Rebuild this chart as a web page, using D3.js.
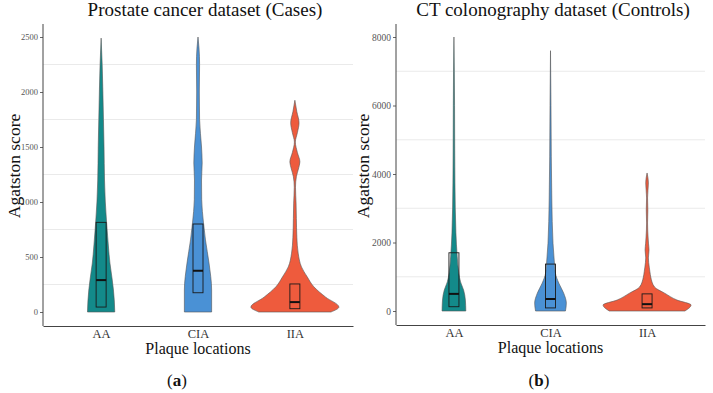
<!DOCTYPE html>
<html>
<head>
<meta charset="utf-8">
<script src="https://cdn.jsdelivr.net/npm/d3@7"></script>
<style>
  body { margin: 0; background: #fff; }
  svg { display: block; }
  svg text { font-family: "Liberation Serif", "Times New Roman", serif; }
</style>
</head>
<body>
<svg id="chart" width="713" height="393"></svg>
<script>
// Violin plots of Agatston score by plaque location (two datasets)

const categories = ["AA", "CIA", "IIA"];
const fillColors = ["#138a8a", "#4a91d5", "#ee5b3d"];
const serif = "Liberation Serif, Times New Roman, serif";

// (a) Prostate cancer dataset (Cases)
const casesTicks = [0, 500, 1000, 1500, 2000, 2500];
const casesGrid = [250, 750, 1250, 1750, 2250];
// [value, relative density]
const casesAA = [[0, .31], [100, .30], [200, .28], [300, .25], [445, .20], [600, .165], [810, .125],
  [1000, .095], [1200, .077], [1500, .066], [1750, .053], [2000, .04], [2250, .024], [2490, 0]];
const casesCIA = [[0, .31], [200, .31], [445, .25], [655, .17], [810, .125], [1020, .084], [1200, .08],
  [1355, .095], [1500, .08], [1750, .036], [2000, .03], [2250, .036], [2400, .023], [2500, 0]];
const casesIIA = [[0, .82], [45, 1.0], [135, .70], [230, .43], [320, .28], [410, .15], [535, .075],
  [680, .045], [850, .034], [990, .027], [1135, .014], [1230, .034], [1300, .08], [1365, .114],
  [1450, .057], [1545, .011], [1630, .057], [1720, .095], [1820, .045], [1925, 0]];
// [q1, median, q3]
const casesBoxes = [[45, 290, 815], [175, 375, 800], [30, 90, 255]];

// (b) CT colonography dataset (Controls)
const controlsTicks = [0, 2000, 4000, 6000, 8000];
const controlsGrid = [1000, 3000, 5000, 7000];
const controlsAA = [[0, .27], [320, .26], [610, .22], [850, .15], [1110, .11], [1580, .075], [2280, .045],
  [3740, .023], [4700, .018], [6000, .014], [7000, .009], [8000, 0]];
const controlsCIA = [[0, .34], [230, .36], [520, .30], [810, .19], [1110, .11], [1490, .084], [1980, .057],
  [3240, .03], [4500, .018], [6000, .011], [7600, 0]];
const controlsIIA = [[0, .86], [175, 1.0], [320, .68], [520, .40], [700, .17], [990, .084], [1150, .064],
  [1280, .05], [1550, .03], [1780, .045], [1980, .032], [2160, .023], [2570, .011], [2950, .018],
  [3300, .011], [3740, .03], [4030, 0]];
const controlsBoxes = [[125, 500, 1700], [90, 350, 1370], [90, 200, 500]];

const svg = d3.select("#chart");

function drawPanel(opt) {
  const g = svg.append("g");

  const x = d3.scalePoint(categories, [opt.left, opt.right]).padding(0.6);
  const y = d3.scaleLinear([0, opt.yMax], [opt.zeroY, opt.maxY]);
  const w = d3.scaleLinear([0, 1], [0, 44]);
  const color = d3.scaleOrdinal(categories, fillColors);

  // light grid lines
  g.append("g")
    .selectAll("line")
    .data(opt.grid)
    .join("line")
    .attr("x1", opt.left)
    .attr("x2", opt.right)
    .attr("y1", d => y(d))
    .attr("y2", d => y(d))
    .attr("stroke", "#e8e8e8")
    .attr("stroke-width", 0.9);

  // violins + boxes
  categories.forEach((c, i) => {
    const cx = x(c);
    const area = d3.area()
      .y(d => y(d[0]))
      .x0(d => cx - w(d[1]))
      .x1(d => cx + w(d[1]))
      .curve(d3.curveMonotoneY);
    g.append("path")
      .datum(opt.violins[i])
      .attr("d", area)
      .attr("fill", color(c))
      .attr("stroke", "#555")
      .attr("stroke-width", 0.6);

    const [q1, med, q3] = opt.boxes[i];
    g.append("rect")
      .attr("x", cx - 5)
      .attr("width", 10)
      .attr("y", y(q3))
      .attr("height", y(q1) - y(q3))
      .attr("fill", "none")
      .attr("stroke", "#1a1a1a")
      .attr("stroke-width", 0.9);
    g.append("line")
      .attr("x1", cx - 5)
      .attr("x2", cx + 5)
      .attr("y1", y(med))
      .attr("y2", y(med))
      .attr("stroke", "#111")
      .attr("stroke-width", 2);
  });

  // y axis
  g.append("g")
    .attr("transform", `translate(${opt.left},0)`)
    .call(d3.axisLeft(y).tickValues(opt.ticks).tickSize(3).tickPadding(2).tickFormat(d3.format("d")))
    .call(a => a.select(".domain").remove())
    .call(a => a.selectAll(".tick line").attr("stroke", "#666"))
    .call(a => a.selectAll(".tick text")
      .attr("fill", "#555")
      .attr("font-size", opt.tickFont)
      .attr("font-family", serif));
  g.append("line")
    .attr("x1", opt.left).attr("x2", opt.left)
    .attr("y1", opt.top).attr("y2", opt.bottom)
    .attr("stroke", "#444").attr("stroke-width", 1);

  // x axis (no visible tick marks in the original)
  g.append("g")
    .attr("transform", `translate(0,${opt.bottom})`)
    .call(d3.axisBottom(x).tickSize(0).tickSizeOuter(0).tickPadding(3))
    .call(a => a.select(".domain").attr("stroke", "#444"))
    .call(a => a.selectAll(".tick text")
      .attr("fill", "#333")
      .attr("font-size", 12.5)
      .attr("font-family", serif));

  // titles
  g.append("text")
    .attr("x", opt.titleX)
    .attr("y", 16)
    .attr("text-anchor", "middle")
    .attr("fill", "#111")
    .attr("font-family", serif)
    .attr("font-size", 19)
    .text(opt.title);
  g.append("text")
    .attr("x", x(categories[1]))
    .attr("y", opt.bottom + 28)
    .attr("text-anchor", "middle")
    .attr("fill", "#111")
    .attr("font-family", serif)
    .attr("font-size", 16)
    .text("Plaque locations");
  g.append("text")
    .attr("transform", `translate(${opt.yLabelX},166) rotate(-90)`)
    .attr("text-anchor", "middle")
    .attr("fill", "#111")
    .attr("font-family", serif)
    .attr("font-size", 17.5)
    .text("Agatston score");

  const tag = g.append("text")
    .attr("x", opt.tagX)
    .attr("y", 386)
    .attr("text-anchor", "middle")
    .attr("fill", "#111")
    .attr("font-family", serif)
    .attr("font-size", 17);
  tag.append("tspan").text("(");
  tag.append("tspan").attr("font-weight", "bold").text(opt.tag);
  tag.append("tspan").text(")");
}

drawPanel({
  title: "Prostate cancer dataset (Cases)", tag: "a",
  left: 43, right: 353, top: 24, bottom: 326,
  zeroY: 312, maxY: 37, yMax: 2500,
  ticks: casesTicks, grid: casesGrid, tickFont: 8.5,
  violins: [casesAA, casesCIA, casesIIA], boxes: casesBoxes,
  titleX: 205, yLabelX: 20, tagX: 177
});

drawPanel({
  title: "CT colonography dataset (Controls)", tag: "b",
  left: 396, right: 705, top: 24, bottom: 325,
  zeroY: 311, maxY: 37, yMax: 8000,
  ticks: controlsTicks, grid: controlsGrid, tickFont: 9.5,
  violins: [controlsAA, controlsCIA, controlsIIA], boxes: controlsBoxes,
  titleX: 553, yLabelX: 369, tagX: 539
});
</script>
</body>
</html>
